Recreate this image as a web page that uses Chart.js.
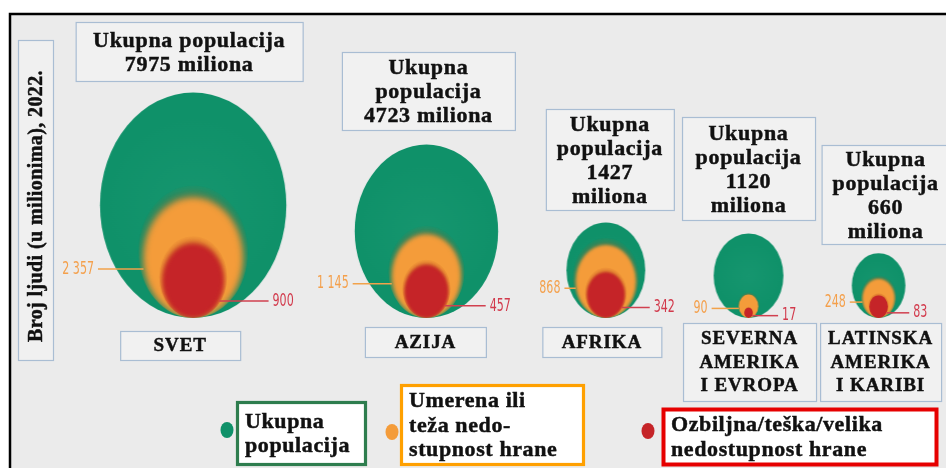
<!DOCTYPE html>
<html>
<head>
<meta charset="utf-8">
<script src="https://cdn.jsdelivr.net/npm/chart.js@4.4.1/dist/chart.umd.min.js"></script>
<style>
  html, body { margin: 0; padding: 0; background: #fff; }
  canvas { display: block; }
</style>
</head>
<body>
<canvas id="chart" width="946" height="468"></canvas>
<script>
// data (millions of people, 2022)
const regions = [['SVET'], ['AZIJA'], ['AFRIKA'], ['SEVERNA', 'AMERIKA', 'I EVROPA'], ['LATINSKA', 'AMERIKA', 'I KARIBI']];
const totalPop = [7975, 4723, 1427, 1120, 660];
const moderatePop = [2357, 1145, 868, 90, 248];
const severePop = [900, 457, 342, 17, 83];
const headerWrap = [2, 3, 4, 4, 4];
const yTitle = 'Broj ljudi (u milionima), 2022.';
const seriesNames = ['Ukupna populacija', 'Umerena ili teža nedostupnost hrane', 'Ozbiljna/teška/velika nedostupnost hrane'];
const legendLines = [['Ukupna', 'populacija'], ['Umerena ili', 'teža nedo-', 'stupnost hrane'], ['Ozbiljna/teška/velika', 'nedostupnost hrane']];

// layout (x axis is in sqrt(million) units so bubble areas follow the values)
const LEFT = 92, GAP = 65.5, X_MAX = 899, STRETCH = 1.21;
const hdrTop = [22, 52, 109, 117, 145], hdrW = [227, 173, 128, 133, 128], hdrH = [59, 78, 101, 103, 99], hdrDx = [-4, 2, 4, 0, 7];
const lblTop = [331, 327, 327, 323, 323], lblW = [120, 121, 119, 133, 121], lblH = [29, 30, 30, 78, 78], lblDx = [-13, -1, -4, 1, 2];
const legendDot = [[227, 430], [392, 432], [648, 431]];
const legendBox = [[236, 401, 131], [400, 384, 185], [662, 408, 276]];
const legendBorder = ['#2e7d4e', '#ffa000', '#e60000'];

const GREEN = '#0f9169', ORANGE = '#f49c3a', RED = '#c52428';
const SERIF = '"Liberation Serif", "Times New Roman", serif';
const NARROW = '"DejaVu Sans Condensed", "Liberation Sans Narrow", sans-serif';

// pack the regions left to right, each bubble followed by a fixed gap
const xPos = [];
totalPop.forEach((v, i) => {
  const r = Math.sqrt(v);
  xPos.push(i === 0 ? LEFT + r : xPos[i - 1] + Math.sqrt(totalPop[i - 1]) + GAP + r);
});

function fmt(n) {
  return String(n).replace(/\B(?=(\d{3})+(?!\d))/g, ' ');
}

function pxPerUnit(chart) {
  const s = chart.scales.x;
  if (!s) return NaN;
  return s.getPixelForValue(1) - s.getPixelForValue(0);
}

// ellipse picture, bottom of the ellipse sits on the picture centre
const cache = {};
function ellipseCanvas(rx, ry, fill, glow) {
  const key = [rx.toFixed(2), fill].join('|');
  if (cache[key]) return cache[key];
  const m = Math.ceil(rx * 0.25) + 3;
  const w = Math.round(2 * rx + 2 * m);
  const h = 2 * Math.round(2 * ry + m);
  const cv = document.createElement('canvas');
  cv.width = w;
  cv.height = h;
  const g = cv.getContext('2d');
  const cx = w / 2, by = h / 2, cy = by - ry;
  if (glow) {
    // soft edge, stronger at the top, kept inside the outer bubble
    g.beginPath();
    g.ellipse(cx, by - ry * 1.08, rx * 1.08, ry * 1.08, 0, 0, Math.PI * 2);
    g.clip();
    g.filter = 'blur(' + Math.max(1, rx * 0.1) + 'px)';
    g.globalAlpha = 0.55;
    g.fillStyle = glow;
    g.beginPath();
    g.ellipse(cx, cy - ry * 0.04, rx * 1.0, ry * 1.02, 0, 0, Math.PI * 2);
    g.fill();
    g.globalAlpha = 1;
    g.filter = 'blur(' + Math.max(0.6, rx * 0.06) + 'px)';
    g.fillStyle = fill;
    g.beginPath();
    g.ellipse(cx, cy + ry * 0.02, rx * 0.98, ry * 0.98, 0, 0, Math.PI * 2);
    g.fill();
  } else {
    const grad = g.createRadialGradient(cx, cy, 0, cx, cy, rx);
    grad.addColorStop(0, '#16966f');
    grad.addColorStop(1, fill);
    g.fillStyle = grad;
    g.beginPath();
    g.ellipse(cx, cy, rx, ry, 0, 0, Math.PI * 2);
    g.fill();
  }
  cache[key] = cv;
  return cv;
}

function makeDataset(label, pop, fill, glow, order) {
  return {
    label: label,
    pop: pop,
    fill: fill,
    data: pop.map((v, i) => ({ x: xPos[i], y: 0 })),
    order: order,
    clip: false,
    backgroundColor: fill,
    pointBorderWidth: 0,
    pointRadius: (c) => {
      const r = c.type === 'data' ? Math.sqrt(pop[c.dataIndex]) * pxPerUnit(c.chart) : NaN;
      return isFinite(r) && r > 0 ? r : 3;
    },
    pointStyle: (c) => {
      if (c.type !== 'data') return 'circle';
      const rx = Math.sqrt(pop[c.dataIndex]) * pxPerUnit(c.chart);
      if (!isFinite(rx) || rx <= 0) return 'circle';
      return ellipseCanvas(rx, rx * STRETCH, fill, glow);
    },
  };
}

function box(ctx, x, y, w, h, fill, stroke, lw) {
  ctx.fillStyle = fill;
  ctx.fillRect(x, y, w, h);
  ctx.strokeStyle = stroke;
  ctx.lineWidth = lw;
  ctx.strokeRect(x + 0.5, y + 0.5, w, h);
}

// bold serif text, a thin stroke makes it a bit heavier like the original
function heavyText(ctx, t, x, y) {
  ctx.fillStyle = '#111';
  ctx.strokeStyle = '#111';
  ctx.lineWidth = 0.45;
  ctx.fillText(t, x, y);
  ctx.strokeText(t, x, y);
}

function lines(ctx, arr, cx, cy, step) {
  const y0 = cy - (arr.length - 1) * step / 2;
  arr.forEach((t, k) => heavyText(ctx, t, cx, y0 + k * step));
}

function narrowText(ctx, text, x, y, align, color) {
  ctx.save();
  ctx.translate(x, y);
  ctx.scale(0.82, 1.2);
  ctx.textAlign = align;
  ctx.fillStyle = color;
  ctx.font = '15px ' + NARROW;
  ctx.fillText(text, 0, 0);
  ctx.restore();
}

const backdrop = {
  id: 'backdrop',
  beforeDraw(chart) {
    const ctx = chart.ctx;
    ctx.save();
    ctx.fillStyle = '#ffffff';
    ctx.fillRect(0, 0, chart.width, chart.height);
    ctx.fillStyle = '#ebebeb';
    ctx.fillRect(10, 14, chart.width, chart.height);
    ctx.strokeStyle = '#000';
    ctx.lineWidth = 2.5;
    ctx.strokeRect(10, 14, chart.width + 20, chart.height + 20);

    // axis title box
    box(ctx, 18, 40, 35, 320, '#f0f0f0', '#a9bdd3', 1.2);
    ctx.translate(36, 206);
    ctx.rotate(-Math.PI / 2);
    ctx.font = 'bold 20px ' + SERIF;
    ctx.letterSpacing = '0.4px';
    ctx.textAlign = 'center';
    ctx.textBaseline = 'middle';
    heavyText(ctx, yTitle, 0, 1);
    ctx.restore();
  },
};

const annotations = {
  id: 'annotations',
  afterDatasetsDraw(chart) {
    const ctx = chart.ctx;
    const green = chart.getDatasetMeta(0).data;
    const orange = chart.getDatasetMeta(1).data;
    const red = chart.getDatasetMeta(2).data;
    ctx.save();
    ctx.textAlign = 'center';
    ctx.textBaseline = 'middle';

    regions.forEach((name, i) => {
      const el = green[i];
      const gx = el.x, base = el.y;
      const gr = el.options.radius;

      // header box
      const n = headerWrap[i];
      const hl = n === 2 ? ['Ukupna populacija', totalPop[i] + ' miliona']
        : n === 3 ? ['Ukupna', 'populacija', totalPop[i] + ' miliona']
        : ['Ukupna', 'populacija', String(totalPop[i]), 'miliona'];
      const hcx = gx + hdrDx[i];
      box(ctx, hcx - hdrW[i] / 2, hdrTop[i], hdrW[i], hdrH[i], '#f1f1f1', '#a9bdd3', 1.2);
      ctx.font = 'bold 22px ' + SERIF;
      ctx.letterSpacing = '0.7px';
      lines(ctx, hl, hcx, hdrTop[i] + hdrH[i] / 2 + 1.5, 24);

      // region label box
      const lcx = gx + lblDx[i];
      box(ctx, lcx - lblW[i] / 2, lblTop[i], lblW[i], lblH[i], '#f1f1f1', '#a9bdd3', 1.2);
      ctx.font = 'bold 19px ' + SERIF;
      ctx.letterSpacing = '0.9px';
      lines(ctx, name, lcx, lblTop[i] + lblH[i] / 2 + 1, 23.5);

      // value labels
      ctx.letterSpacing = '0px';
      const orx = orange[i].options.radius, ory = orx * STRETCH;
      const oy = base - ory + 0.2 * ory;
      const oEdge = gx - orx * Math.sqrt(Math.max(0, 1 - Math.pow((oy - (base - ory)) / ory, 2)));
      const oText = gx - gr - 6;
      ctx.strokeStyle = '#f2a24a';
      ctx.lineWidth = 1.5;
      ctx.beginPath();
      ctx.moveTo(oText + 4, oy);
      ctx.lineTo(oEdge, oy);
      ctx.stroke();
      narrowText(ctx, fmt(moderatePop[i]), oText, oy, 'right', '#f4a04c');

      const rrx = red[i].options.radius, rry = rrx * STRETCH;
      const ry = base - rry + 0.55 * rry;
      const rEdge = gx + rrx * Math.sqrt(Math.max(0, 1 - Math.pow((ry - (base - rry)) / rry, 2)));
      const rText = rEdge + 0.4 * gr + 16;
      ctx.strokeStyle = '#d1404f';
      ctx.lineWidth = 1.5;
      ctx.beginPath();
      ctx.moveTo(rEdge, ry);
      ctx.lineTo(rText - 4, ry);
      ctx.stroke();
      narrowText(ctx, fmt(severePop[i]), rText, ry, 'left', '#d23a4c');
    });

    // legend
    chart.data.datasets.forEach((ds, k) => {
      const [dx, dy] = legendDot[k];
      ctx.fillStyle = ds.fill;
      ctx.beginPath();
      ctx.ellipse(dx, dy, 6.5, 8, 0, 0, Math.PI * 2);
      ctx.fill();
      const [bx, by, bw] = legendBox[k];
      const bh = 466 - by;
      ctx.fillStyle = '#fff';
      ctx.fillRect(bx, by, bw, bh);
      ctx.strokeStyle = legendBorder[k];
      ctx.lineWidth = k === 2 ? 4 : 3.2;
      ctx.strokeRect(bx + 1.5, by + 1.5, bw - 3, bh - 3);
      ctx.font = 'bold 22px ' + SERIF;
      ctx.letterSpacing = '0.6px';
      ctx.textAlign = 'left';
      const ls = legendLines[k];
      const y0 = by + bh / 2 - (ls.length - 1) * 24.5 / 2 + 1;
      ls.forEach((t, j) => heavyText(ctx, t, bx + 9, y0 + j * 24.5));
      ctx.textAlign = 'center';
    });
    ctx.restore();
  },
};

new Chart(document.getElementById('chart'), {
  type: 'scatter',
  data: {
    datasets: [
      makeDataset(seriesNames[0], totalPop, GREEN, null, 3),
      makeDataset(seriesNames[1], moderatePop, ORANGE, '#8a6a30', 2),
      makeDataset(seriesNames[2], severePop, RED, '#b8401f', 1),
    ],
  },
  options: {
    responsive: false,
    animation: false,
    events: [],
    layout: { padding: { top: 0, left: 0, right: 0, bottom: 150 } },
    scales: {
      x: { type: 'linear', display: false, min: 0, max: X_MAX },
      y: { type: 'linear', display: false, min: 0, max: 100 },
    },
    plugins: {
      legend: { display: false },
      tooltip: { enabled: false },
    },
  },
  plugins: [backdrop, annotations],
});
</script>
</body>
</html>
